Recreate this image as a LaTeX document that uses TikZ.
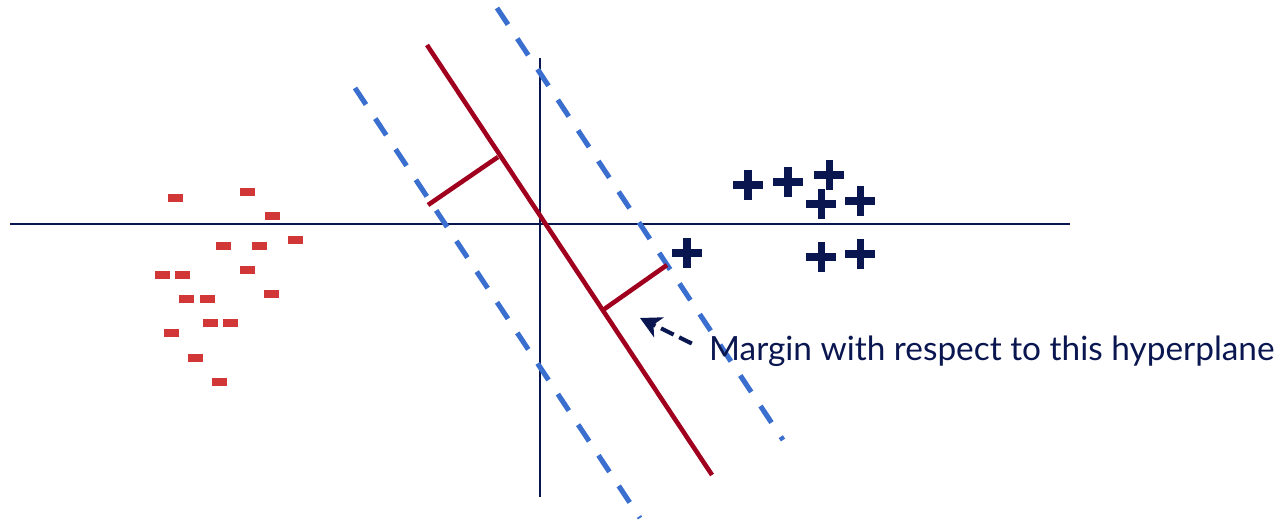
\documentclass[tikz,border=0pt]{standalone}
\usepackage{fontspec}
\setmainfont{Lato}
\usetikzlibrary{arrows.meta,shapes.misc}
\definecolor{axisnavy}{RGB}{10,22,80}
\definecolor{planered}{RGB}{160,0,30}
\definecolor{marginblue}{RGB}{58,111,208}
\definecolor{negred}{RGB}{210,55,55}
\tikzset{
  axisline/.style ={line width=0.9pt, axisnavy},
  hyper/.style    ={line width=2.6pt, planered},
  marginbar/.style={line width=2.6pt, planered},
  support/.style  ={line width=2.9pt, marginblue, dash pattern=on 11.3pt off 9.6pt},
  negpt/.style    ={rectangle, fill=negred, minimum width=0.3cm, minimum height=0.16cm,
                    inner sep=0pt},
  pospt/.style    ={cross out, draw=axisnavy, line width=4pt, rotate=45,
                    minimum size=0.28cm, inner sep=0pt},
  marginlbl/.style={font=\fontsize{19}{22}\selectfont, text=axisnavy, inner sep=1pt},
  marginarrow/.style={-{Stealth[length=4.2mm, width=4.4mm, inset=1.2mm]}, line width=2.3pt,
                      axisnavy, dash pattern=on 8pt off 3.5pt},
}
\begin{document}
\begin{tikzpicture}[x=0.02cm, y=-0.02cm]
  \useasboundingbox (0,0) rectangle (1280,530);
  % axes
  \coordinate (xl) at (10,224);
  \coordinate (xr) at (1070,224);
  \coordinate (yt) at (540,58);
  \coordinate (yb) at (540,497);
  \draw[axisline] (xl) -- (xr);
  \draw[axisline] (yt) -- (yb);
  % margin lines
  \coordinate (sl1) at (355,88);
  \coordinate (sl2) at (640,518);
  \coordinate (sr1) at (497,8);
  \coordinate (sr2) at (783,440);
  \draw[support] (sl1) -- (sl2);
  \draw[support] (sr1) -- (sr2);
  % hyperplane and its margins
  \coordinate (h1) at (427,45);
  \coordinate (h2) at (712,475);
  \draw[hyper] (h1) -- (h2);
  \coordinate (ma1) at (498,157);
  \coordinate (ma2) at (428,205);
  \coordinate (mb1) at (603,310);
  \coordinate (mb2) at (667,265);
  \draw[marginbar] (ma1) -- (ma2);
  \draw[marginbar] (mb1) -- (mb2);
  % negative class
  \foreach \x/\y [count=\i] in {175/198, 247/192, 272/216, 295/240, 223/246, 259/246,
      247/270, 162/275, 182/275, 271/294, 186/299, 207/299, 210/323, 230/323,
      171/333, 195/358, 219/382} {
    \node[negpt] (neg\i) at (\x,\y) {};
  }
  % positive class
  \foreach \x/\y [count=\i] in {748/185, 788/182, 829/175, 821/204, 860/201,
      687/253, 821/257, 860/254} {
    \node[pospt] (pos\i) at (\x,\y) {};
  }
  % label
  \node[marginlbl, anchor=west] (lbl) at (707,351) {Margin with respect to this hyperplane};
  \coordinate (tip) at (640,318);
  \draw[marginarrow, shorten <=0.34cm] (lbl.west) -- (tip);
\end{tikzpicture}
\end{document}
